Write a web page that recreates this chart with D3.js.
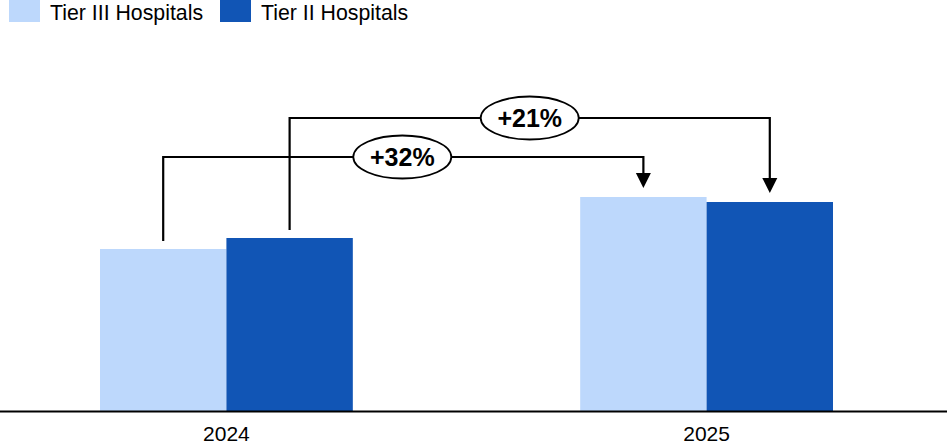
<!DOCTYPE html>
<html>
<head>
<meta charset="utf-8">
<script src="https://cdn.jsdelivr.net/npm/d3@7"></script>
<style>
  html, body { margin: 0; padding: 0; background: #fff; }
  svg { display: block; font-family: Arial, "Liberation Sans", sans-serif; }
</style>
</head>
<body>
<svg id="chart" width="947" height="446"></svg>
<script>
// Years on the x axis
const years = ["2024", "2025"];
// Series names (legend order)
const seriesNames = ["Tier III Hospitals", "Tier II Hospitals"];
// Values per series, one per year
const tier3Values = [1.62, 2.14];
const tier2Values = [1.73, 2.09];
// Height (in value units) of each growth bracket
const bracketLevels = [2.54, 2.93];

const colors = ["#bdd8fc", "#1155b5"];
const seriesValues = [tier3Values, tier2Values];

const W = 947, H = 446;
const baseY = 411;
const svg = d3.select("#chart");

const x = d3.scaleBand().domain(years).range([100, 833]).paddingInner(0.4735).paddingOuter(0);
const xs = d3.scaleBand().domain(seriesNames).range([0, x.bandwidth()]).padding(0);
const y = d3.scaleLinear().domain([0, 4.11]).range([baseY, 0]);

// Bars
const rows = [];
years.forEach((yr, i) => seriesNames.forEach((s, j) => rows.push({ yr, s, j, v: seriesValues[j][i] })));
svg.append("g").selectAll("rect").data(rows).join("rect")
  .attr("x", d => x(d.yr) + xs(d.s))
  .attr("y", d => y(d.v))
  .attr("width", xs.bandwidth())
  .attr("height", d => y(0) - y(d.v))
  .attr("fill", d => colors[d.j]);

// Baseline and year labels
svg.append("line").attr("x1", 0).attr("x2", W).attr("y1", baseY + 0.5).attr("y2", baseY + 0.5)
  .attr("stroke", "#000").attr("stroke-width", 2.2);
const xAxis = d3.axisBottom(x).tickSize(0).tickPadding(0);
const ax = svg.append("g").attr("transform", `translate(0,${baseY})`).call(xAxis);
ax.select(".domain").remove();
ax.selectAll("text").attr("dy", null).attr("y", 30).attr("font-size", 21)
  .attr("font-family", "Arial, 'Liberation Sans', sans-serif").attr("fill", "#000");

// Growth brackets with arrows and percentage badges
const gap = 8;
const ann = svg.append("g");
seriesNames.forEach((s, j) => {
  const v0 = seriesValues[j][0], v1 = seriesValues[j][1];
  const pct = Math.round((v1 / v0 - 1) * 100);
  const x0 = x(years[0]) + xs(s) + xs.bandwidth() / 2;
  const x1 = x(years[1]) + xs(s) + xs.bandwidth() / 2;
  const yl = y(bracketLevels[j]);
  const yStart = y(v0) - gap;
  const yTip = y(v1) - 9;
  const head = 15;
  ann.append("path")
    .attr("d", `M${x0},${yStart} V${yl} H${x1} V${yTip - head + 1}`)
    .attr("fill", "none").attr("stroke", "#000").attr("stroke-width", 2.2);
  ann.append("path")
    .attr("d", `M${x1 - 7.5},${yTip - head} L${x1 + 7.5},${yTip - head} L${x1},${yTip} Z`)
    .attr("fill", "#000");
  const cx = j === 0 ? (x0 + x1) / 2 - 1 : (x0 + x1) / 2;
  ann.append("ellipse").attr("cx", cx).attr("cy", yl).attr("rx", 49).attr("ry", 21.5)
    .attr("fill", "#fff").attr("stroke", "#000").attr("stroke-width", 1.8);
  ann.append("text").attr("x", cx).attr("y", yl + 9).attr("text-anchor", "middle")
    .attr("font-size", 25).attr("font-weight", "bold").text(`+${pct}%`);
});

// Legend
const legendX = [9, 220];
const lg = svg.append("g");
seriesNames.forEach((s, j) => {
  lg.append("rect").attr("x", legendX[j]).attr("y", 0).attr("width", 31).attr("height", 22).attr("fill", colors[j]);
  lg.append("text").attr("x", legendX[j] + 41).attr("y", 19.5).attr("font-size", 21.3).attr("fill", "#000").text(s);
});
</script>
</body>
</html>
